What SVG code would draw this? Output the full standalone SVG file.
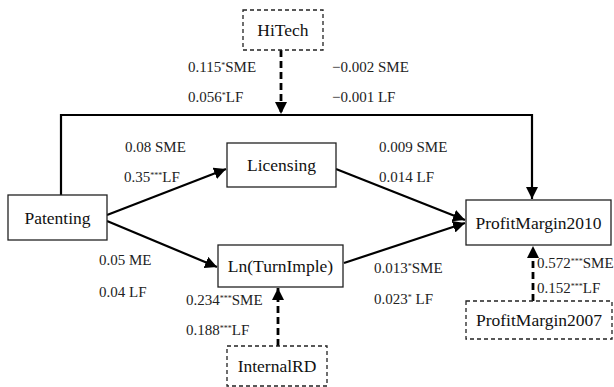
<svg xmlns="http://www.w3.org/2000/svg" width="614" height="387" viewBox="0 0 614 387">
<style>
.box{fill:#fff;stroke:#222;stroke-width:1.3}
.dbox{fill:#fff;stroke:#222;stroke-width:1.3;stroke-dasharray:4 3}
text{font-family:'Liberation Serif','Times New Roman','DejaVu Serif',serif}
.nt{font-size:17.5px;fill:#111;text-anchor:middle;dominant-baseline:central}
.lb{font-size:15px;fill:#222}
.sup{font-size:8px;baseline-shift:super}
.ln{fill:none;stroke:#000;stroke-width:2.2}
.dl{fill:none;stroke:#000;stroke-width:2.8;stroke-dasharray:7 4}
</style>
<defs>
<marker id="ah" viewBox="0 0 10 10" refX="10" refY="5" markerWidth="12" markerHeight="12" markerUnits="userSpaceOnUse" orient="auto">
<path d="M0,0 L10,5 L0,10 z" fill="#000"/>
</marker>
</defs>
<rect width="614" height="387" fill="#fff"/>
<g id="connectors">
<polyline class="ln" points="61,195 61,115 532,115 532,199" marker-end="url(#ah)"/>
<line class="ln" x1="107" y1="215" x2="226" y2="169" marker-end="url(#ah)"/>
<line class="ln" x1="107" y1="221" x2="217" y2="267" marker-end="url(#ah)"/>
<line class="ln" x1="336" y1="169" x2="465" y2="220" marker-end="url(#ah)"/>
<line class="ln" x1="344" y1="263" x2="465" y2="223" marker-end="url(#ah)"/>
<line class="dl" x1="281" y1="50" x2="281" y2="114" marker-end="url(#ah)"/>
<line class="dl" x1="278" y1="346" x2="278" y2="288" marker-end="url(#ah)"/>
<line class="dl" x1="533" y1="301" x2="533" y2="246" marker-end="url(#ah)"/>
</g>
<g id="HiTech"><rect class="dbox" x="243" y="10" width="80" height="40"/><text class="nt" x="283" y="30">HiTech</text></g>
<g id="Patenting"><rect class="box" x="8" y="195" width="99" height="45"/><text class="nt" x="57.5" y="217.5">Patenting</text></g>
<g id="Licensing"><rect class="box" x="227" y="143" width="109" height="44"/><text class="nt" x="281.5" y="165">Licensing</text></g>
<g id="LnTurnImple"><rect class="box" x="218" y="245" width="125" height="42"/><text class="nt" x="280.5" y="266">Ln(TurnImple)</text></g>
<g id="ProfitMargin2010"><rect class="box" x="466" y="200" width="145" height="45"/><text class="nt" x="538.5" y="222.5">ProfitMargin2010</text></g>
<g id="InternalRD"><rect class="dbox" x="227" y="346" width="100" height="40"/><text class="nt" x="277" y="366">InternalRD</text></g>
<g id="ProfitMargin2007"><rect class="dbox" x="466" y="301" width="146" height="38"/><text class="nt" x="539" y="320">ProfitMargin2007</text></g>
<g id="labels">
<text class="lb" x="188" y="72">0.115<tspan class="sup">*</tspan>SME</text>
<text class="lb" x="188" y="102">0.056<tspan class="sup">*</tspan>LF</text>
<text class="lb" x="332" y="72">−0.002 SME</text>
<text class="lb" x="332" y="102">−0.001 LF</text>
<text class="lb" x="125" y="152">0.08 SME</text>
<text class="lb" x="124" y="182">0.35<tspan class="sup">***</tspan>LF</text>
<text class="lb" x="379" y="152">0.009 SME</text>
<text class="lb" x="379" y="182">0.014 LF</text>
<text class="lb" x="99" y="265">0.05 ME</text>
<text class="lb" x="99" y="297">0.04 LF</text>
<text class="lb" x="374" y="273">0.013<tspan class="sup">*</tspan>SME</text>
<text class="lb" x="374" y="304">0.023<tspan class="sup">*</tspan> LF</text>
<text class="lb" x="186" y="305">0.234<tspan class="sup">***</tspan>SME</text>
<text class="lb" x="186" y="335">0.188<tspan class="sup">***</tspan>LF</text>
<text class="lb" x="537" y="268">0.572<tspan class="sup">***</tspan>SME</text>
<text class="lb" x="537" y="293">0.152<tspan class="sup">***</tspan>LF</text>
</g>
</svg>
